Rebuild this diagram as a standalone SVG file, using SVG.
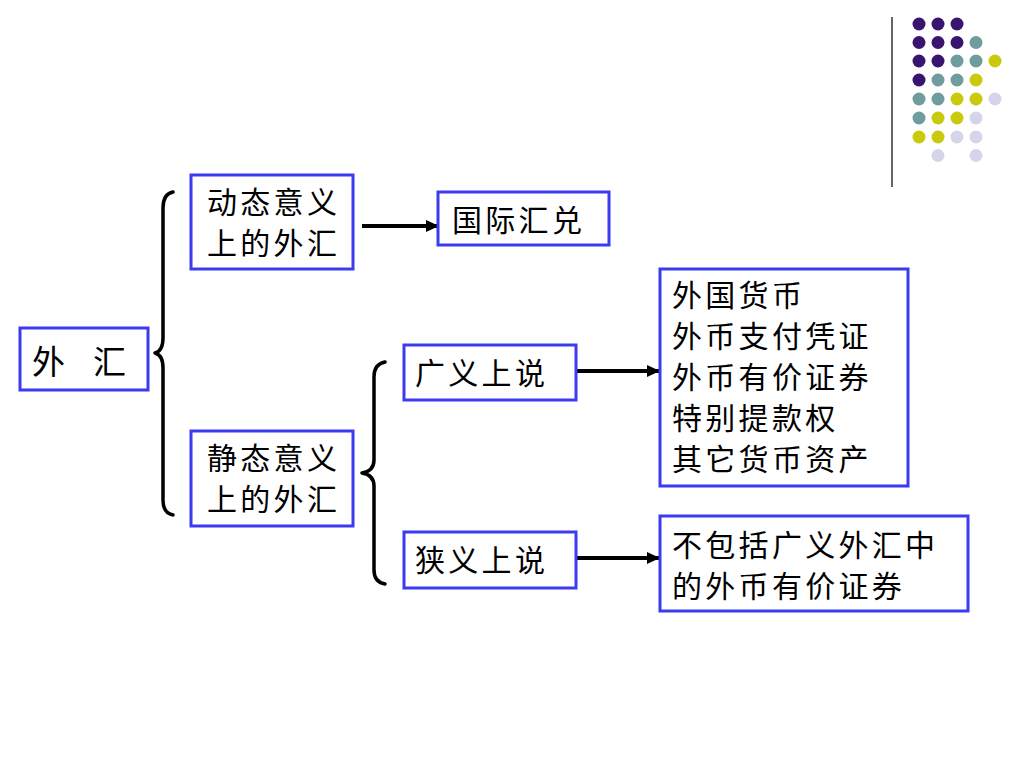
<svg xmlns="http://www.w3.org/2000/svg" width="1024" height="768" viewBox="0 0 1024 768">
<style>
.box{fill:#fff;stroke:#3b3bf0;stroke-width:3}
.t{font-family:"Noto Sans CJK SC","Noto Sans CJK JP",sans-serif;font-size:30px;letter-spacing:3.3px;fill:#000}
.big{font-size:33px;letter-spacing:0}
.brace{fill:none;stroke:#000;stroke-width:3.5;stroke-linecap:round;stroke-linejoin:round}
.arr{stroke:#000;stroke-width:4;fill:none}
.p{fill:#3a1570}.g{fill:#6f9c9c}.y{fill:#c9c90d}.l{fill:#d5d5ea}
</style>
<defs>
<marker id="ah" markerWidth="13" markerHeight="12" refX="12" refY="6" orient="auto" markerUnits="userSpaceOnUse">
<path d="M0,0 L13,6 L0,12 Z" fill="#000"/>
</marker>
</defs>
<rect width="1024" height="768" fill="#fff"/>
<g id="decor">
<line x1="892" y1="17" x2="892" y2="187" stroke="#333" stroke-width="1.5"/>
<circle class="p" cx="919" cy="24" r="6.5"/><circle class="p" cx="938" cy="24" r="6.5"/><circle class="p" cx="957" cy="24" r="6.5"/>
<circle class="p" cx="919" cy="42.5" r="6.5"/><circle class="p" cx="938" cy="42.5" r="6.5"/><circle class="p" cx="957" cy="42.5" r="6.5"/><circle class="g" cx="976" cy="42.5" r="6.5"/>
<circle class="p" cx="919" cy="61" r="6.5"/><circle class="p" cx="938" cy="61" r="6.5"/><circle class="g" cx="957" cy="61" r="6.5"/><circle class="g" cx="976" cy="61" r="6.5"/><circle class="y" cx="995" cy="61" r="6.5"/>
<circle class="p" cx="919" cy="80" r="6.5"/><circle class="g" cx="938" cy="80" r="6.5"/><circle class="g" cx="957" cy="80" r="6.5"/><circle class="y" cx="976" cy="80" r="6.5"/>
<circle class="g" cx="919" cy="99" r="6.5"/><circle class="g" cx="938" cy="99" r="6.5"/><circle class="y" cx="957" cy="99" r="6.5"/><circle class="y" cx="976" cy="99" r="6.5"/><circle class="l" cx="995" cy="99" r="6.5"/>
<circle class="g" cx="919" cy="118" r="6.5"/><circle class="y" cx="938" cy="118" r="6.5"/><circle class="y" cx="957" cy="118" r="6.5"/><circle class="l" cx="976" cy="118" r="6.5"/>
<circle class="y" cx="919" cy="137" r="6.5"/><circle class="y" cx="938" cy="137" r="6.5"/><circle class="l" cx="957" cy="137" r="6.5"/><circle class="l" cx="976" cy="137" r="6.5"/>
<circle class="l" cx="938" cy="155.5" r="6.5"/><circle class="l" cx="976" cy="155.5" r="6.5"/>
</g>
<g id="connectors">
<path class="brace" d="M173,192 Q163,194 163,208 L163,338 Q163,351 155,353 Q163,355 163,368 L163,500 Q163,513 173,515"/>
<path class="brace" d="M385,362 Q374,364 374,377 L374,460 Q374,471 362,473 Q374,475 374,486 L374,570 Q374,582 385,584"/>
<line class="arr" x1="362" y1="226" x2="438" y2="226" marker-end="url(#ah)"/>
<line class="arr" x1="577" y1="371" x2="659" y2="371" marker-end="url(#ah)"/>
<line class="arr" x1="577" y1="558" x2="659" y2="558" marker-end="url(#ah)"/>
</g>
<g id="n-waihui">
<rect class="box" x="20" y="328" width="128" height="62"/>
<text class="t big" x="32" y="374">外<tspan x="93">汇</tspan></text>
</g>
<g id="n-dongtai">
<rect class="box" x="191" y="175" width="162" height="94"/>
<text class="t" x="207" y="213">动态意义</text>
<text class="t" x="207" y="254">上的外汇</text>
</g>
<g id="n-jingtai">
<rect class="box" x="191" y="431" width="162" height="95"/>
<text class="t" x="207" y="469">静态意义</text>
<text class="t" x="207" y="510">上的外汇</text>
</g>
<g id="n-guoji">
<rect class="box" x="438" y="192" width="171" height="53"/>
<text class="t" x="452" y="231">国际汇兑</text>
</g>
<g id="n-guangyi">
<rect class="box" x="404" y="345" width="172" height="55"/>
<text class="t" x="415" y="384">广义上说</text>
</g>
<g id="n-xiayi">
<rect class="box" x="404" y="532" width="172" height="56"/>
<text class="t" x="415" y="571">狭义上说</text>
</g>
<g id="n-guangyi-list">
<rect class="box" x="660" y="269" width="248" height="217"/>
<text class="t" x="672" y="306">外国货币</text>
<text class="t" x="672" y="347">外币支付凭证</text>
<text class="t" x="672" y="388">外币有价证券</text>
<text class="t" x="672" y="429">特别提款权</text>
<text class="t" x="672" y="470">其它货币资产</text>
</g>
<g id="n-xiayi-desc">
<rect class="box" x="660" y="516" width="308" height="95"/>
<text class="t" x="672" y="556">不包括广义外汇中</text>
<text class="t" x="672" y="597">的外币有价证券</text>
</g>
</svg>
